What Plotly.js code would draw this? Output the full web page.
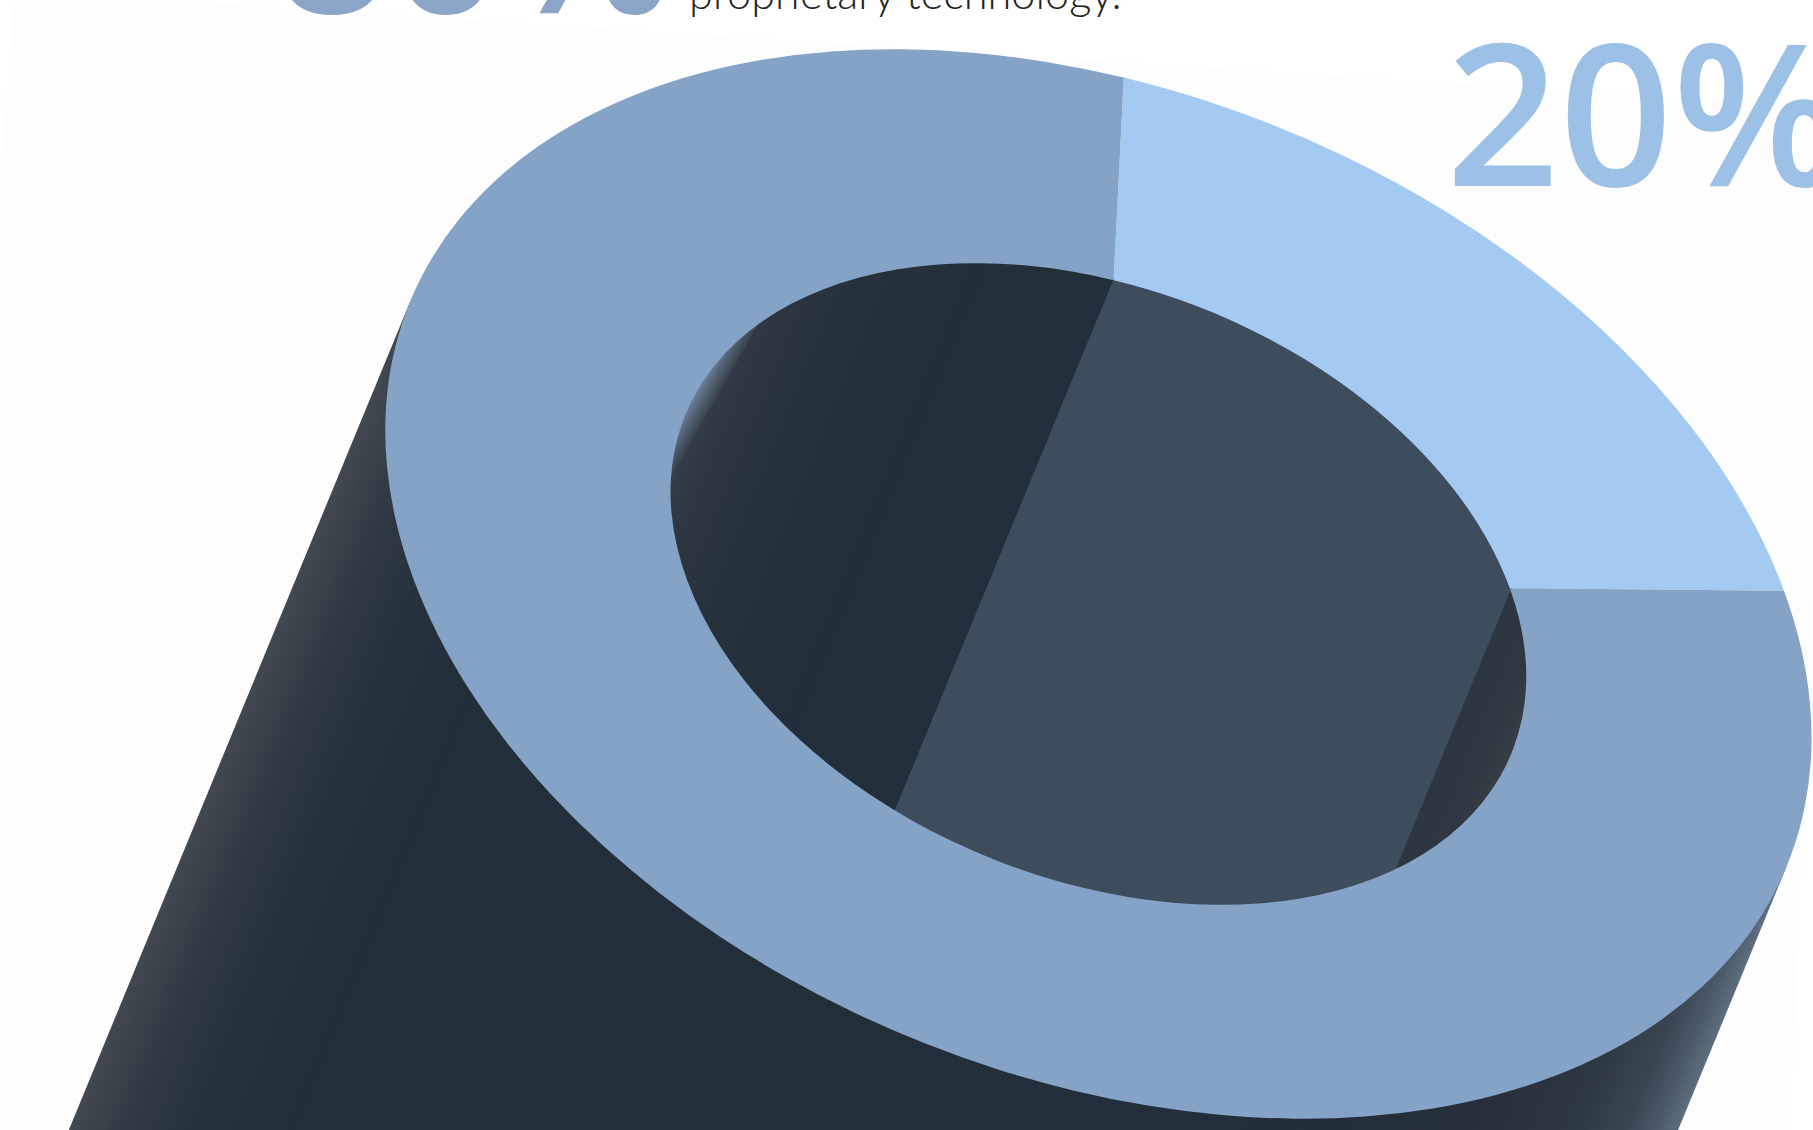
<!DOCTYPE html>
<html>
<head>
<meta charset="utf-8">
<script src="https://cdn.plot.ly/plotly-3.0.1.min.js"></script>
<style>
  html, body { margin: 0; padding: 0; background: #fff; overflow: hidden; }
  #chart { width: 1813px; height: 1130px; }
</style>
</head>
<body>
<div id="chart"></div>
<script>
// Share of the business split between the two segments of the ring.
const shareLabels = ['Other', 'Proprietary technology'];
const shareValues = [20, 80];
const captionText = 'proprietary technology.';

// Page size and the projection of the ring onto the page.
const W = 1813, H = 1130;
const CENTER = [1098.4, 584];
const AXIS_U = [712.7, 171.8];   // image of the circle's +x radius
const AXIS_V = [-25.4, 506.4];   // image of the circle's +y radius
const HOLE = 0.6;
const WALL_R = HOLE * 1.004;     // walls run just under the face so its edge stays clean
const EXTRUDE = [-0.412, 1];     // direction the solid runs away from the face
const DEPTH = 1100;

const SLICE_COLORS = ['#A4CAF2', '#85A3C7'];
const WALL_LIGHT = '#3D4D5E';
const BODY = '#222E3A';

const project = (x, y, r = 1) => [
  CENTER[0] + r * (AXIS_U[0] * x + AXIS_V[0] * y),
  CENTER[1] + r * (AXIS_U[1] * x + AXIS_V[1] * y)
];

// Extrusion direction and its normal, expressed in circle space.
const det = AXIS_U[0] * AXIS_V[1] - AXIS_V[0] * AXIS_U[1];
const unproject = (px, py) => [(AXIS_V[1] * px - AXIS_V[0] * py) / det, (-AXIS_U[1] * px + AXIS_U[0] * py) / det];
const dRaw = unproject(EXTRUDE[0], EXTRUDE[1]);
const dLen = Math.hypot(dRaw[0], dRaw[1]);
const dir = [dRaw[0] / dLen, dRaw[1] / dLen];
let nrm = [dir[1], -dir[0]];
if (project(nrm[0], nrm[1])[0] > CENTER[0]) nrm = [-nrm[0], -nrm[1]];   // normal points at the left silhouette

const hex = c => [1, 3, 5].map(i => parseInt(c.substr(i, 2), 16));
function ramp(stops, t) {
  for (let i = 1; i < stops.length; i++) {
    if (t <= stops[i][0]) {
      const f = (t - stops[i - 1][0]) / (stops[i][0] - stops[i - 1][0]);
      const a = hex(stops[i - 1][1]), b = hex(stops[i][1]);
      return 'rgb(' + a.map((v, k) => Math.round(v + (b[k] - v) * f)).join(',') + ')';
    }
  }
  return stops[stops.length - 1][1];
}

const poly = (pts, color) => ({
  type: 'scatter', mode: 'lines', fill: 'toself', fillcolor: color,
  x: pts.map(p => p[0]), y: pts.map(p => p[1]),
  line: { width: 0, color: color }, hoverinfo: 'skip', showlegend: false
});

// Cap of the circle on the far side of a chord: {p : p.n >= h}, mapped to the page.
function cap(n, h, r) {
  const mid = Math.atan2(n[1], n[0]);
  const half = Math.acos(Math.max(-1, Math.min(1, h)));
  const pts = [];
  const steps = 140;
  for (let i = 0; i <= steps; i++) {
    const a = mid - half + 2 * half * i / steps;
    pts.push(project(Math.cos(a), Math.sin(a), r));
  }
  return pts;
}

const traces = [];

// Very faint sheet behind the solid.
traces.push(poly([[14, -1], [150, -1], [1400, 80], [1814, 106], [1814, 560], [1790, 1131], [-1, 1131], [-1, 200]], '#FDFDFD'));

// Outer body: nested bands working in from each silhouette, so each outer edge is drawn only once.
const bodyStops = [
  [0, '#5D6D7D'], [0.0125, '#4C5A68'], [0.03, '#3C4753'], [0.065, '#2E3842'], [0.13, '#262F3A'], [0.27, BODY],
  [0.86, BODY], [0.925, '#27323D'], [0.965, '#313A44'], [1, '#42484F']
];
function bodyBand(tFrom, tTo) {
  const off = [EXTRUDE[0] * DEPTH, EXTRUDE[1] * DEPTH];
  const at = t => project(nrm[0] * (2 * t - 1), nrm[1] * (2 * t - 1));
  const a = at(tFrom), b = at(tTo);
  return [a, b, [b[0] + off[0], b[1] + off[1]], [a[0] + off[0], a[1] + off[1]]];
}
for (let t = 0; t < 0.27; t += 0.002) traces.push(poly(bodyBand(t, 0.55), ramp(bodyStops, t)));
for (let t = 1; t > 0.86; t -= 0.002) traces.push(poly(bodyBand(0.5, t), ramp(bodyStops, t)));
traces.push(poly(bodyBand(0.27, 0.86), BODY));

// Inner wall seen through the hole, painted across from the right rim to the left rim.
const wallStops = [
  [0, '#383E45'], [0.03, '#2F3741'], [0.12, '#2A343F'], [0.2, '#27323D'], [0.35, BODY],
  [0.75, BODY], [0.87, '#26313C'], [0.95, '#2D3641'], [1, '#3A414A']
];
for (let t = 0; t < 0.35; t += 0.004) traces.push(poly(cap(nrm, 2 * t - 1, WALL_R), ramp(wallStops, t)));
traces.push(poly(cap(nrm, -0.3, WALL_R), BODY));
for (let t = 0.75; t < 1; t += 0.004) traces.push(poly(cap(nrm, 2 * t - 1, WALL_R), ramp(wallStops, t)));

// Pale sliver of reflected light on the upper-left of the hole wall.
const sliverA = unproject(671 - CENTER[0], 478 - CENTER[1]).map(v => v / WALL_R);
const sliverB = unproject(738 - CENTER[0], 360 - CENTER[1]).map(v => v / WALL_R);
{
  const cx = sliverB[0] - sliverA[0], cy = sliverB[1] - sliverA[1];
  const l = Math.hypot(cx, cy);
  let n = [cy / l, -cx / l];
  if (n[0] * sliverA[0] + n[1] * sliverA[1] < 0) n = [-n[0], -n[1]];
  const h0 = n[0] * sliverA[0] + n[1] * sliverA[1];
  const sliverStops = [[0, '#39444F'], [0.35, '#4A5867'], [0.7, '#5E7084'], [1, '#72859A']];
  const sliverBands = 24;
  for (let i = 0; i < sliverBands; i++) {
    const f = i / sliverBands;
    traces.push(poly(cap(n, h0 + (1 - h0) * f * 0.95, WALL_R), ramp(sliverStops, f)));
  }
}

// Inner wall of the smaller share: the strip swept from its rim arc along the extrusion.
{
  const sweep = 2 * Math.PI * shareValues[0] / (shareValues[0] + shareValues[1]);
  const pts = [];
  const rim = a => [Math.sin(a), -Math.cos(a)];      // clockwise from twelve o'clock
  const far = p => {
    const k = 2 * (p[0] * dir[0] + p[1] * dir[1]);
    return [p[0] - k * dir[0], p[1] - k * dir[1]];
  };
  const arc = (p, q) => {
    const a0 = Math.atan2(p[1], p[0]);
    let a1 = Math.atan2(q[1], q[0]);
    while (a1 < a0) a1 += 2 * Math.PI;
    for (let i = 0; i <= 120; i++) {
      const a = a0 + (a1 - a0) * i / 120;
      pts.push(project(Math.cos(a), Math.sin(a), WALL_R));
    }
  };
  const p1 = rim(0), p2 = rim(sweep);
  arc(p1, p2);
  arc(far(p2), far(p1));
  traces.push(poly(pts, WALL_LIGHT));
}

// The face of the ring itself, drawn by the pie trace and sheared into place afterwards.
traces.push({
  type: 'pie', values: shareValues, labels: shareLabels, sort: false, direction: 'clockwise',
  rotation: 0, hole: HOLE, textinfo: 'none', hoverinfo: 'none', showlegend: false,
  marker: { colors: SLICE_COLORS, line: { width: 0 } },
  domain: { x: [0.2, 0.8], y: [0.1, 0.9] }
});

const px = v => v / W, py = v => 1 - v / H;
const annotations = [
  { text: shareValues[1] + '%', x: px(274), y: py(-64), color: '#8BA5C9', size: 198, weight: 600, family: '"Open Sans", sans-serif' },
  { text: shareValues[0] + '%', x: px(1444), y: py(109), color: '#9DC0E7', size: 198, weight: 600, family: '"Open Sans", sans-serif' },
  { text: captionText, x: px(687), y: py(-8), color: '#222222', size: 43.3, weight: 300, family: 'Lato, sans-serif' }
].map(a => ({
  xref: 'paper', yref: 'paper', x: a.x, y: a.y, xanchor: 'left', yanchor: 'middle',
  text: a.text, showarrow: false, align: 'left',
  font: { family: a.family, size: a.size, color: a.color, weight: a.weight }
}));

const layout = {
  width: W, height: H, margin: { l: 0, r: 0, t: 0, b: 0 },
  paper_bgcolor: '#FFFFFF', plot_bgcolor: 'rgba(0,0,0,0)',
  xaxis: { range: [0, W], visible: false, fixedrange: true },
  yaxis: { range: [H, 0], visible: false, fixedrange: true },
  showlegend: false, annotations
};

const gd = document.getElementById('chart');

function placeFace() {
  const layer = gd.querySelector('.pielayer');
  const info = gd.calcdata.find(c => c[0].trace.type === 'pie')[0];
  if (!layer || !info || !info.r) return;
  const { cx, cy, r } = info;
  const a = AXIS_U[0] / r, c = AXIS_U[1] / r, b = AXIS_V[0] / r, d = AXIS_V[1] / r;
  const e = CENTER[0] - a * cx - b * cy, f = CENTER[1] - c * cx - d * cy;
  layer.setAttribute('transform', `matrix(${a} ${c} ${b} ${d} ${e} ${f})`);
}

Plotly.newPlot(gd, traces, layout, { staticPlot: true, displayModeBar: false }).then(() => {
  placeFace();
  gd.on('plotly_afterplot', placeFace);
});
</script>
</body>
</html>
